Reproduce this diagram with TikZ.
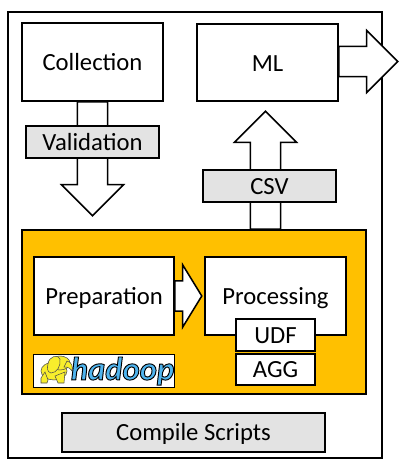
\documentclass[tikz,border=0pt]{standalone}
\usepackage{fontspec}
\setmainfont{Carlito}
\usetikzlibrary{shapes.arrows}

\definecolor{boxgray}{HTML}{E3E3E3}
\definecolor{hadooporange}{HTML}{FFC000}
\definecolor{hadoopblue}{HTML}{4FB4EE}
\definecolor{hadoopyellow}{HTML}{F8EE2C}

\tikzset{
  sized/.style 2 args={minimum width=#1*0.75pt, minimum height=#2*0.75pt},
  plainbox/.style={draw=black, line width=1.6pt, fill=white, inner sep=0pt,
    text height=15pt, text depth=2.6pt, font=\fontsize{18.5}{22}\selectfont},
  graybox/.style={plainbox, fill=boxgray},
  blockarrow/.style={single arrow, anchor=tail, draw=black, line width=1.15pt, fill=white, inner sep=0pt,
    text height=21.5pt, text depth=0pt, single arrow head extend=16*0.75pt},
}

\begin{document}
\begin{tikzpicture}[x=0.75pt, y=-0.75pt]
\useasboundingbox (0,0) rectangle (403,470);
% frame
\node[draw=black, line width=1.6pt, inner sep=0pt, sized={374}{446}] (frame) at (195,235) {};
% arrows under the boxes
\node[blockarrow, minimum height=114*0.75pt, rotate=-90] (collectarrow) at (92.5,101) {};
\node[blockarrow, minimum height=118*0.75pt, rotate=90] (csvarrow) at (265.5,230) {};
\node[blockarrow, minimum height=59*0.75pt] (mlarrow) at (338,61.5) {};
% top row
\node[plainbox, sized={141}{78}] (collection) at (92.5,62) {Collection};
\node[plainbox, sized={141}{77}, text depth=1.3pt] (ml) at (267.5,62.5) {ML};
\node[graybox, sized={133}{32}] (validation) at (92.5,142) {Validation};
\node[graybox, sized={133}{32}] (csv) at (269.5,186) {CSV};
% hadoop block
\node[draw=black, line width=1.6pt, fill=hadooporange, inner sep=0pt, sized={344}{164}] (cluster) at (194,312) {};
\node[plainbox, sized={141}{78}] (processing) at (275.5,296) {Processing};
\node[blockarrow, minimum height=27*0.75pt, single arrow tip angle=117] (preparrow) at (174,296) {};
\node[plainbox, sized={140}{78}] (preparation) at (104,296) {Preparation};
\node[plainbox, sized={79}{32}] (udf) at (275.5,335) {UDF};
\node[plainbox, sized={79}{31}] (agg) at (275.5,369.5) {AGG};
% logo
\node[draw=black, line width=0.7pt, fill=white, inner sep=0pt, sized={141}{33}] (logo) at (103.5,370.5) {};
\begin{scope}[draw=black!70, line width=0.4pt, fill=hadoopyellow]
  \filldraw (54,371) ellipse (13 and 9);
  \filldraw (41,378) -- (45,372) -- (48,380) -- (47,383) -- (41,383) -- cycle;
  \filldraw (55,376) -- (65,372) -- (64,383) -- (58,383) -- cycle;
  \filldraw (60,363) ellipse (10 and 7);
  \filldraw (48,364) .. controls (49,356) and (58,354) .. (60,359) .. controls (61,366) and (57,373) .. (51,373) .. controls (47,372) and (47,368) .. (48,364) -- cycle;
  \filldraw (67,361) .. controls (72,362) and (73,367) .. (72,371) .. controls (70,368) and (68,367) .. (64,367) -- cycle;
\end{scope}
\node[inner sep=0pt, text=hadoopblue, font=\fontsize{24.5}{25}\bfseries\itshape\selectfont] (hadoop) at (122.5,371)
  {\special{pdf:code 2 Tr 0.7 w 0 0 0 RG}hadoop\special{pdf:code 0 Tr}};
% bottom
\node[graybox, sized={263}{39}] (compile) at (193.5,432.5) {Compile Scripts};
\end{tikzpicture}
\end{document}
